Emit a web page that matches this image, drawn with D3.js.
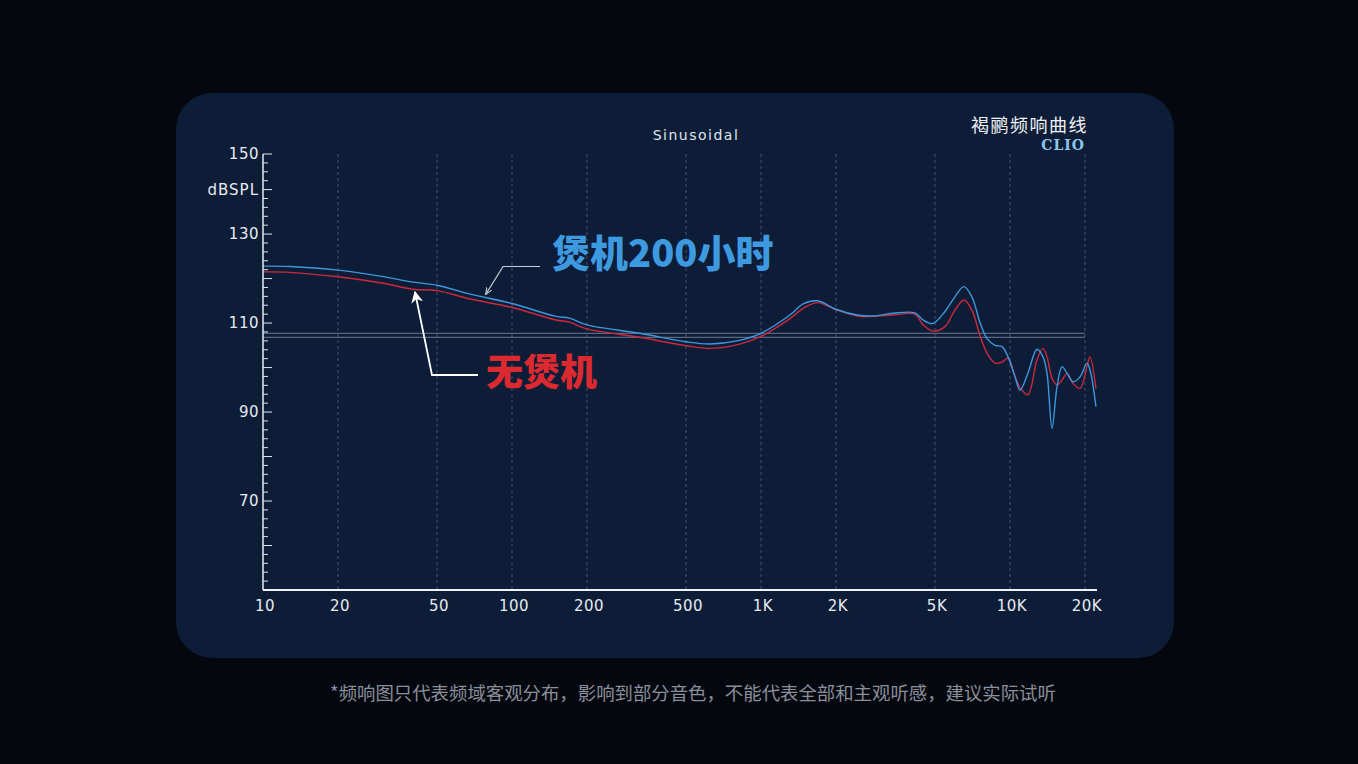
<!DOCTYPE html>
<html>
<head>
<meta charset="utf-8">
<script src="https://cdn.jsdelivr.net/npm/d3@7"></script>
<style>
  html, body { margin: 0; padding: 0; background: #05070f; }
  svg { display: block; }
</style>
</head>
<body>
<svg id="chart" width="1358" height="764"></svg>
<script>
// ---------------- DATA ----------------
const freqs = [10, 12.8, 20, 30, 40, 50, 68, 100, 150, 170, 200, 326, 500, 624, 800, 1000, 1306, 1477, 1688, 2000, 2432, 2820, 3390, 4150, 4475, 4900, 5480, 6010, 6530, 7030, 7600, 8090, 8710, 9290, 9820, 10470, 10970, 11800, 12830, 13570, 14080, 14750, 15450, 16190, 16950, 17920, 19110, 20370, 20950, 22140];
const burnIn200h = [122.8, 122.7, 121.9, 120.5, 119.2, 118.5, 116.5, 114.4, 111.5, 111.1, 109.6, 107.7, 105.8, 105.3, 106.0, 107.7, 111.8, 114.3, 115.0, 113.1, 111.8, 111.6, 112.2, 112.3, 110.7, 109.9, 112.6, 115.9, 118.2, 115.9, 109.9, 106.5, 105.0, 104.7, 102.4, 98.0, 94.9, 98.7, 104.1, 102.4, 98.7, 86.3, 95.7, 100.2, 98.7, 96.8, 97.9, 101.0, 99.5, 91.2];
const noBurnIn   = [121.5, 121.4, 120.4, 119.0, 117.6, 117.3, 115.4, 113.5, 110.7, 110.2, 108.7, 106.8, 104.9, 104.3, 105.1, 107.0, 111.0, 113.3, 114.6, 113.0, 111.6, 111.5, 111.8, 112.0, 109.6, 108.2, 109.2, 112.9, 115.2, 112.9, 107.0, 103.2, 101.0, 101.2, 102.1, 98.0, 95.5, 93.9, 101.7, 104.3, 102.4, 97.6, 96.1, 97.2, 98.7, 96.4, 95.3, 100.2, 102.4, 95.3];
const refLines = [107.7, 106.8];
const gridFreqs = [20, 50, 100, 200, 500, 1000, 2000, 5000, 10000, 20000];
const xTickValues = [10, 20, 50, 100, 200, 500, 1000, 2000, 5000, 10000, 20000];
const xTickLabels = ["10", "20", "50", "100", "200", "500", "1K", "2K", "5K", "10K", "20K"];
const yTickValues = [148, 130, 110, 90, 70];
const yTickLabels = ["150", "130", "110", "90", "70"];
const yUnit = "dBSPL";
const seriesNames = ["煲机200小时", "无煲机"];
const titleText = "Sinusoidal";
const brandText = "褐鹂频响曲线";
const brandSub = "CLIO";
const footnote = "*频响图只代表频域客观分布，影响到部分音色，不能代表全部和主观听感，建议实际试听";

// ---------------- DRAW ----------------
const svg = d3.select("#chart");
const BLUE = "#3d97dc", RED = "#cc2a3c";
const sans = "'DejaVu Sans', 'Liberation Sans', sans-serif";
const cjk = "'Noto Sans CJK SC', sans-serif";

svg.append("rect").attr("width", 1358).attr("height", 764).attr("fill", "#05070f");
svg.append("rect").attr("x", 176).attr("y", 93).attr("width", 998).attr("height", 565)
  .attr("rx", 36).attr("ry", 36).attr("fill", "#0e1d37");

const x = d3.scaleLog().domain([10, 10 * Math.pow(10, (1097 - 263) / 249)]).range([263, 1097]);
const y = d3.scaleLinear().domain([50, 148]).range([590, 154]);

// vertical dashed gridlines
svg.append("g").selectAll("line").data(gridFreqs).join("line")
  .attr("x1", d => x(d)).attr("x2", d => x(d))
  .attr("y1", y(148)).attr("y2", y(50))
  .attr("stroke", "#6f819c").attr("stroke-opacity", 0.55)
  .attr("stroke-width", 1).attr("stroke-dasharray", "3,3");

// horizontal reference lines
svg.append("g").selectAll("line").data(refLines).join("line")
  .attr("x1", x(10)).attr("x2", x(20000))
  .attr("y1", d => y(d)).attr("y2", d => y(d))
  .attr("stroke", "#6d7a8e").attr("stroke-width", 1);

// curves
const line = d3.line().x(d => x(d[0])).y(d => y(d[1])).curve(d3.curveCatmullRom.alpha(0.5));
svg.append("path").datum(freqs.map((f, i) => [f, noBurnIn[i]]))
  .attr("d", line).attr("fill", "none").attr("stroke", RED).attr("stroke-width", 1.4);
svg.append("path").datum(freqs.map((f, i) => [f, burnIn200h[i]]))
  .attr("d", line).attr("fill", "none").attr("stroke", BLUE).attr("stroke-width", 1.4);

// Y axis
const yAxisG = svg.append("g").attr("transform", "translate(263,0)");
yAxisG.append("line").attr("x1", 0).attr("x2", 0).attr("y1", y(148)).attr("y2", y(50))
  .attr("stroke", "#e6ebf2").attr("stroke-width", 1.5);
const minorVals = d3.range(50, 149, 2);
yAxisG.selectAll("line.tk").data(minorVals).join("line").attr("class", "tk")
  .attr("x1", 0).attr("x2", d => (d % 10 === 0 || d === 148) ? 9 : 5)
  .attr("y1", d => y(d)).attr("y2", d => y(d))
  .attr("stroke", "#dfe5ee").attr("stroke-width", 1);
yAxisG.selectAll("text.yl").data(yTickValues).join("text").attr("class", "yl")
  .attr("x", -4).attr("y", d => y(d)).attr("dy", "0.35em")
  .attr("text-anchor", "end").attr("fill", "#e6ebf2")
  .attr("font-family", sans).attr("font-size", 15).attr("letter-spacing", 0.5)
  .text((d, i) => yTickLabels[i]);
yAxisG.append("text").attr("x", -4).attr("y", y(140)).attr("dy", "0.35em")
  .attr("text-anchor", "end").attr("fill", "#e6ebf2")
  .attr("font-family", sans).attr("font-size", 15).attr("letter-spacing", 1).text(yUnit);

// X axis
const xAxisG = svg.append("g");
xAxisG.append("line").attr("x1", 263).attr("x2", 1097).attr("y1", 590).attr("y2", 590)
  .attr("stroke", "#eef2f7").attr("stroke-width", 2);
xAxisG.selectAll("text").data(xTickValues).join("text")
  .attr("x", d => x(d) + 2).attr("y", 611)
  .attr("text-anchor", "middle").attr("fill", "#e6ebf2")
  .attr("font-family", sans).attr("font-size", 15).attr("letter-spacing", 0.5)
  .text((d, i) => xTickLabels[i]);

// titles
svg.append("text").attr("x", 696).attr("y", 140).attr("text-anchor", "middle")
  .attr("fill", "#dfe5ee").attr("font-family", sans).attr("font-size", 14)
  .attr("letter-spacing", 1.5).text(titleText);
svg.append("text").attr("x", 1088).attr("y", 132).attr("text-anchor", "end")
  .attr("fill", "#eef2f7").attr("font-family", cjk).attr("font-size", 18)
  .attr("letter-spacing", 1.5).text(brandText);
svg.append("text").attr("x", 1085).attr("y", 150).attr("text-anchor", "end")
  .attr("fill", "#8cc6ea").attr("font-family", "'DejaVu Serif', serif").attr("font-weight", "bold")
  .attr("font-size", 14).attr("letter-spacing", 1).text(brandSub);

// series labels
svg.append("text").attr("x", 552).attr("y", 267)
  .attr("fill", "#3e9ae0").attr("font-family", cjk).attr("font-weight", 900)
  .attr("font-size", 38).text(seriesNames[0]);
svg.append("text").attr("x", 486).attr("y", 386)
  .attr("fill", "#db2a2f").attr("font-family", cjk).attr("font-weight", 900)
  .attr("font-size", 37).text(seriesNames[1]);

// arrows
const defs = svg.append("defs");
defs.append("marker").attr("id", "ahGray").attr("viewBox", "0 0 10 10")
  .attr("refX", 9).attr("refY", 5).attr("markerWidth", 7).attr("markerHeight", 7)
  .attr("orient", "auto").attr("markerUnits", "userSpaceOnUse")
  .append("path").attr("d", "M0,1 L10,5 L0,9").attr("fill", "none").attr("stroke", "#c9d0da").attr("stroke-width", 1.5);
defs.append("marker").attr("id", "ahWhite").attr("viewBox", "0 0 10 10")
  .attr("refX", 9).attr("refY", 5).attr("markerWidth", 12).attr("markerHeight", 12)
  .attr("orient", "auto").attr("markerUnits", "userSpaceOnUse")
  .append("path").attr("d", "M0,0 L10,5 L0,10 L3,5 Z").attr("fill", "#ffffff");

svg.append("path").attr("d", "M540,266.5 L503,266.5 L486,294")
  .attr("fill", "none").attr("stroke", "#c9d0da").attr("stroke-width", 1.2)
  .attr("marker-end", "url(#ahGray)");
svg.append("path").attr("d", "M478,375 L432,375 L415,292")
  .attr("fill", "none").attr("stroke", "#ffffff").attr("stroke-width", 1.8)
  .attr("marker-end", "url(#ahWhite)");

// footnote
svg.append("text").attr("x", 693).attr("y", 700).attr("text-anchor", "middle")
  .attr("fill", "#8a8f9a").attr("font-family", cjk).attr("font-size", 18.4)
  .text(footnote);
</script>
</body>
</html>
